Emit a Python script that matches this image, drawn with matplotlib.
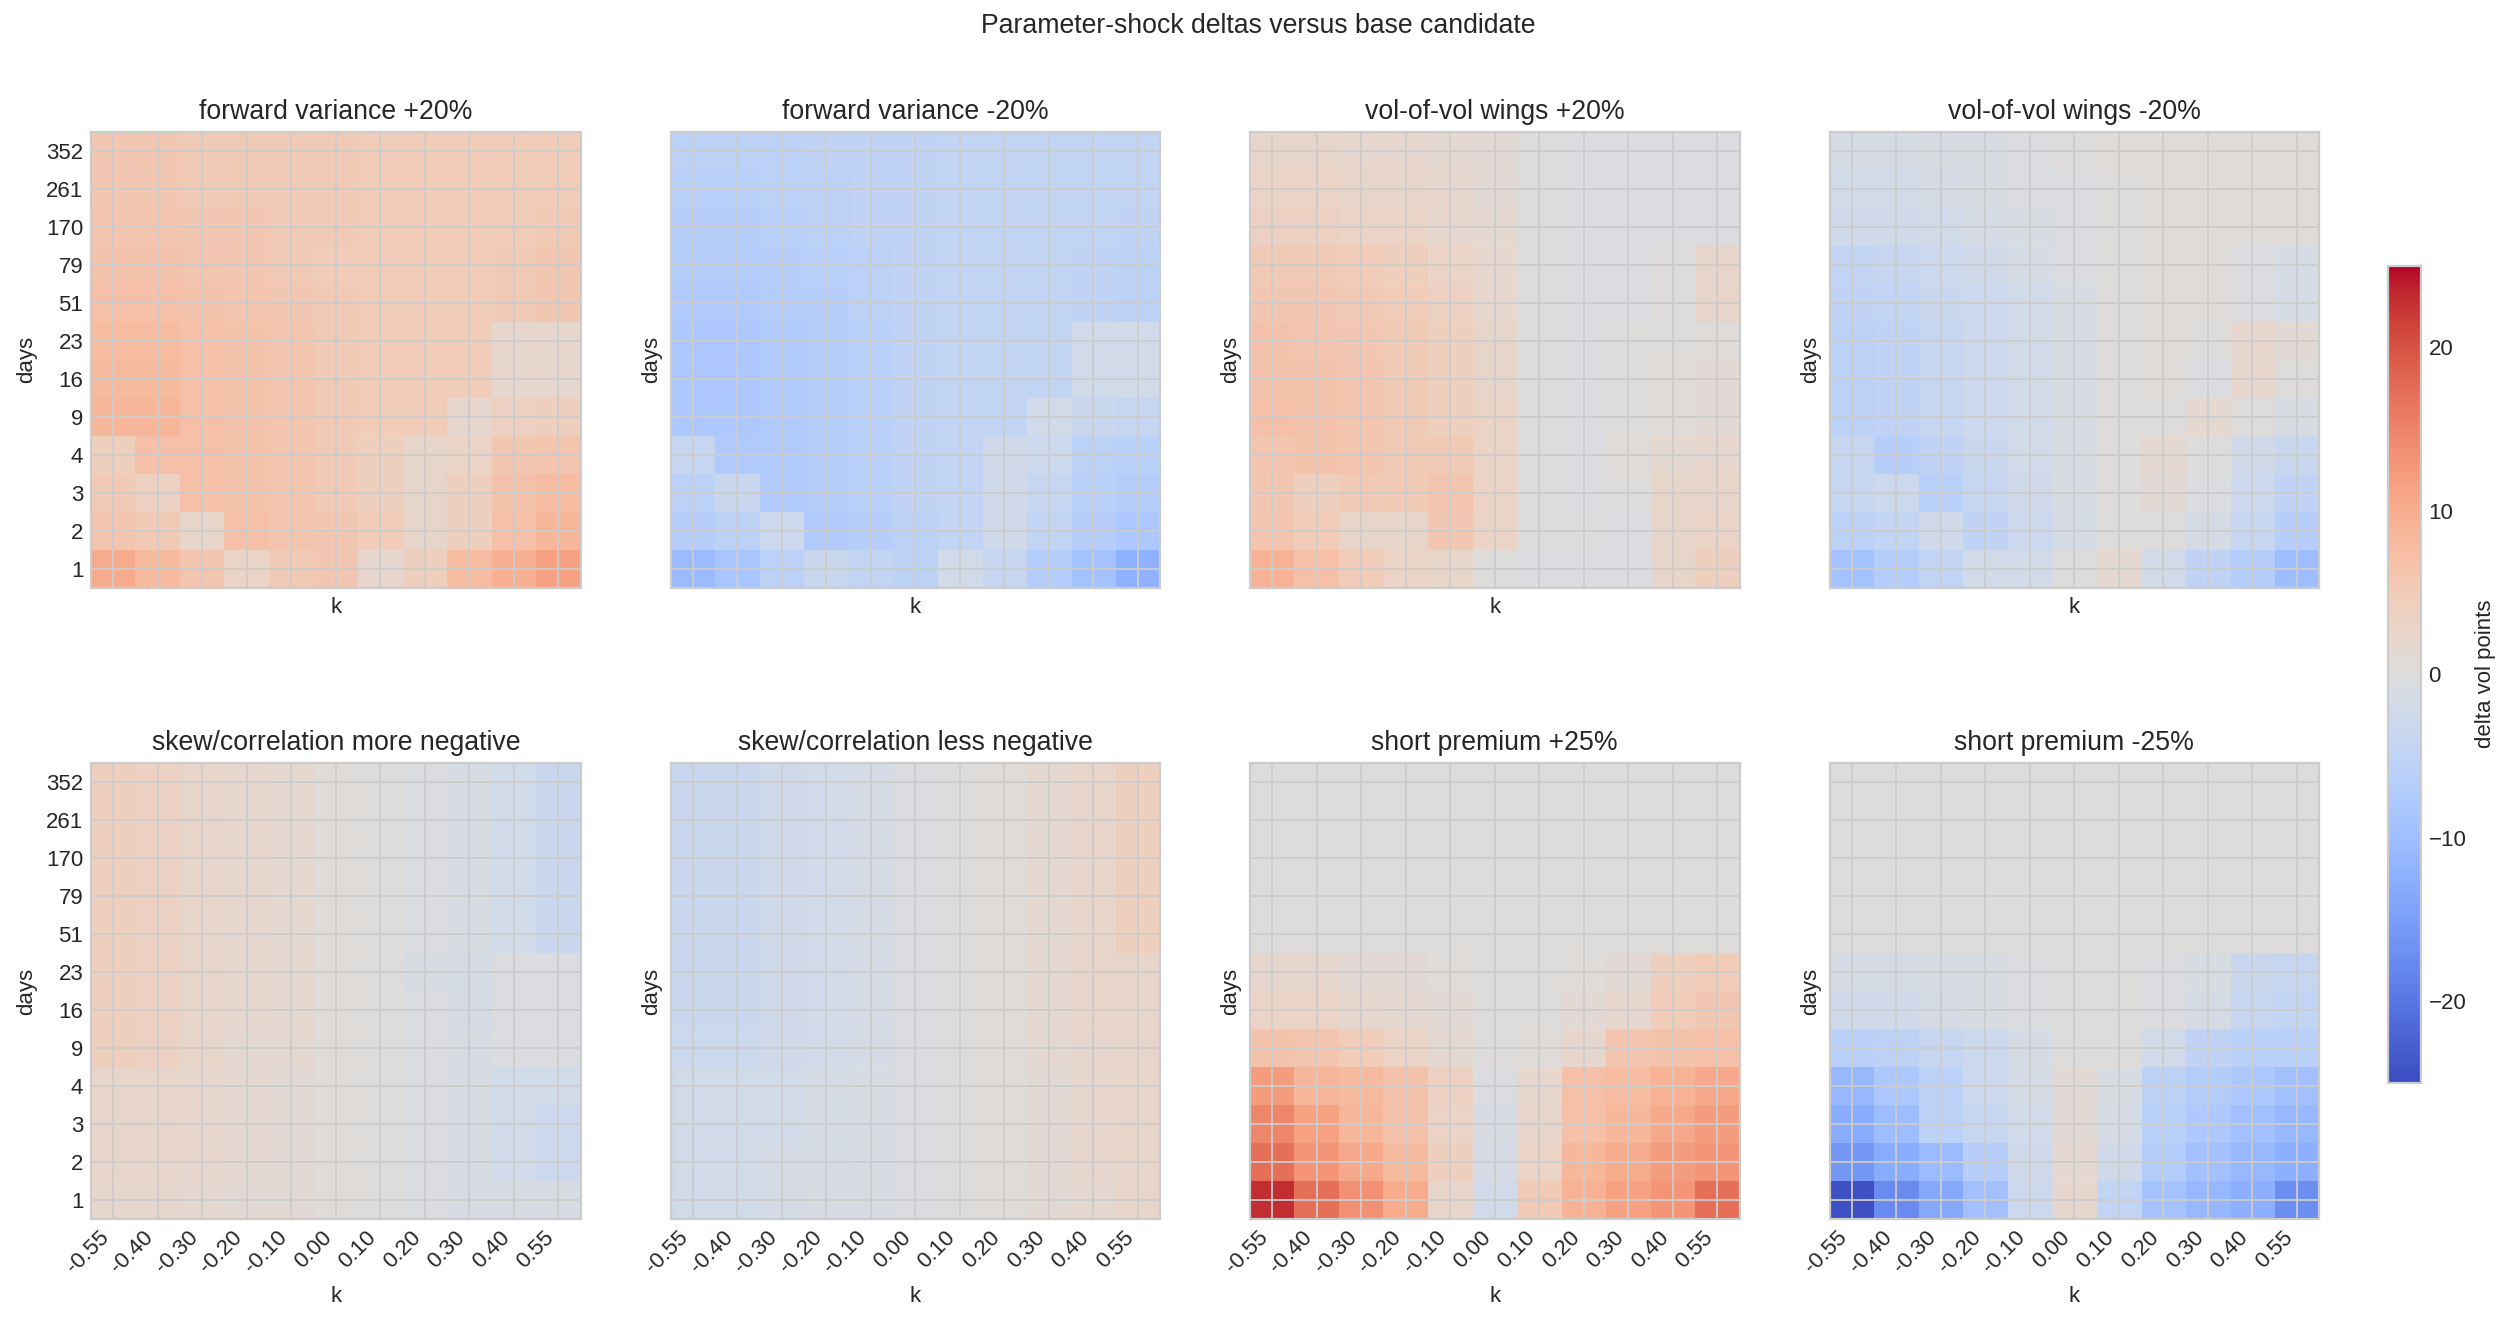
import numpy as np
import matplotlib
matplotlib.use("Agg")
import matplotlib.pyplot as plt

plt.style.use("seaborn-v0_8-whitegrid")
plt.rcParams["font.family"] = ["Liberation Sans", "DejaVu Sans"]

k_labels = ["-0.55", "-0.40", "-0.30", "-0.20", "-0.10", "0.00", "0.10", "0.20", "0.30", "0.40", "0.55"]
day_labels = ["1", "2", "3", "4", "9", "16", "23", "51", "79", "170", "261", "352"]

titles = [
    "forward variance +20%", "forward variance -20%",
    "vol-of-vol wings +20%", "vol-of-vol wings -20%",
    "skew/correlation more negative", "skew/correlation less negative",
    "short premium +25%", "short premium -25%",
]

# rows go from 1 day (bottom) up to 352 days (top), columns follow k_labels
fwd_var_up = [
    [10, 8, 6, 3, 5, 5.5, 2, 4, 7.5, 9.5, 11.5],
    [6, 5, 2.5, 7, 6, 5.5, 4.5, 2.5, 4, 7, 8.5],
    [5, 3.5, 7, 6.5, 6, 5, 4, 2.5, 4, 6.5, 7.5],
    [4, 7, 7, 6.5, 6, 5, 4, 2.5, 3, 5.5, 6],
    [8.5, 8.5, 7, 6.5, 6, 5, 4.5, 4.5, 2, 3.5, 4],
    [8, 8, 7, 6.5, 6, 5, 4.5, 4.5, 4.5, 2, 2],
    [7.5, 7.5, 7, 6.5, 6, 5, 4.5, 4.5, 4.5, 2, 2],
    [7, 7, 6.5, 6, 5.5, 5, 4.5, 4.5, 4.5, 5, 5.5],
    [6.5, 6.5, 6, 5.5, 5, 4.5, 4.5, 4.5, 4.5, 5, 5.5],
    [6, 6, 5.5, 5.5, 5, 5, 4.5, 4.5, 4.5, 4.5, 5],
    [5.5, 5.5, 5, 5, 5, 5, 4.5, 4.5, 4.5, 4.5, 4.5],
    [5.5, 5.5, 5, 5, 5, 5, 4.5, 4.5, 4.5, 4.5, 4.5],
]
fwd_var_down = [
    [-10.5, -8.5, -5.5, -3.5, -4.5, -5.5, -2, -4, -7, -9, -12],
    [-6.5, -5.5, -3, -7.5, -6.5, -5.5, -4.5, -2.5, -4.5, -6.5, -8],
    [-5.5, -3.5, -7.5, -7, -6, -5, -4.5, -2.5, -4, -6, -7],
    [-4, -7.5, -7.5, -7, -6, -5, -4.5, -2.5, -3, -5.5, -6],
    [-8, -8, -7.5, -7, -6, -5, -4.5, -4.5, -2, -3.5, -4],
    [-8, -8, -7.5, -7, -6, -5, -4.5, -4.5, -4.5, -2, -2],
    [-8, -8, -7.5, -7, -6, -5, -4.5, -4.5, -4.5, -2, -2],
    [-7.5, -7.5, -7, -6.5, -5.5, -5, -4.5, -4.5, -4.5, -5, -5.5],
    [-7, -7, -6.5, -6, -5.5, -5, -4.5, -4.5, -4.5, -5, -5.5],
    [-6.5, -6.5, -6, -5.5, -5, -5, -4.5, -4.5, -4.5, -4.5, -5],
    [-6, -6, -5.5, -5.5, -5, -5, -4.5, -4.5, -4.5, -4.5, -4.5],
    [-5.5, -5.5, -5.5, -5, -5, -5, -4.5, -4.5, -4.5, -4.5, -4.5],
]
volvol_up = [
    [9, 7, 4.5, 3, 2.5, 0, -0.5, -0.5, -0.5, 2.5, 4],
    [6, 4.5, 2.5, 2.5, 5.5, 3, 0, 0, -0.5, 2.5, 3],
    [5.5, 4, 5, 5, 6, 3, 0, -0.5, 0, 2.5, 2.5],
    [6, 6.5, 6, 5, 5, 3, 0, -0.5, 0.5, 1.5, 2],
    [7, 6.5, 6, 5, 4, 3, 0, -0.5, 0, 0.5, 1],
    [6.5, 6.5, 6, 5, 4, 2.5, 0, -0.5, 0, 0.5, 1],
    [6.5, 6, 5.5, 5, 4, 2.5, 0, -0.5, 0, 0, 0.5],
    [5.5, 5.5, 5, 4.5, 3.5, 2, 0, -0.5, -0.5, 0, 2.5],
    [5, 5, 4.5, 4, 3, 2, 0, -0.5, -0.5, 0, 2.5],
    [3.5, 3.5, 3, 3, 2, 1.5, 0, -0.5, -0.5, -0.5, -0.5],
    [3, 3, 2.5, 2.5, 2, 1, 0, -0.5, -0.5, -0.5, -0.5],
    [2.5, 2.5, 2, 2, 1.5, 1, 0, -0.5, -0.5, -0.5, -0.5],
]
volvol_down = [
    [-9, -7, -4.5, -2, -2, 0, 1.5, -2, -5, -7, -10],
    [-5.5, -4.5, -2.5, -5, -3, -1.5, 0, 0, -1.5, -4, -6.5],
    [-4, -3, -6, -4, -2.5, -1, 0, 1, -0.5, -3, -5],
    [-4, -6.5, -5, -3.5, -2, -1, 0, 1.5, 0, -2.5, -3.5],
    [-5.5, -5, -4, -3, -2, -1, 0, 0, 1.5, 0, -1],
    [-5.5, -5, -4, -3, -2, -1, 0, 0.5, -0.5, 2, 0],
    [-5.5, -5, -4, -3, -2, -1, 0, 0.5, 0, 2, 1],
    [-5, -4.5, -3.5, -3, -2, -1, 0, 0.5, 0.5, -0.5, -1.5],
    [-4.5, -4, -3, -2.5, -1.5, -0.5, 0, 0.5, 0.5, -0.5, -1.5],
    [-2.5, -2.5, -2, -1.5, -1, -0.5, 0, 0.5, 0.5, 0.5, 0.5],
    [-2, -2, -1.5, -1, -0.5, -0.5, 0, 0.5, 0.5, 0.5, 0.5],
    [-1.5, -1.5, -1, -1, -0.5, 0, 0.5, 0.5, 0.5, 0.5, 0.5],
]
skew_more = [
    [2, 2, 1.5, 1, 1, 0.5, 0, -0.5, -1, -1, -1],
    [2.5, 2.5, 2, 1.5, 1, 0.5, 0, -0.5, -1, -2, -3],
    [2.5, 2.5, 2, 1.5, 1, 0.5, 0, -0.5, -1, -2, -3],
    [2.5, 2.5, 2, 1.5, 1, 0.5, 0, -0.5, -1, -2, -2],
    [4, 3.5, 2.5, 1.5, 1.5, 0.5, 0, -0.5, -1, -0.5, -0.5],
    [4, 3.5, 2.5, 2, 1.5, 0.5, 0, -0.5, -1.5, -0.5, -0.5],
    [4, 3.5, 2.5, 2, 1.5, 0.5, 0, -1, -1.5, -0.5, -0.5],
    [4, 3.5, 2.5, 2, 1.5, 0.5, 0, -0.5, -1, -2, -3.5],
    [4, 3.5, 2.5, 2, 1.5, 0.5, 0, -0.5, -1, -2, -3.5],
    [4, 3.5, 2.5, 2, 1.5, 0.5, 0, -0.5, -1, -2, -3.5],
    [4, 3.5, 2.5, 2, 1.5, 0.5, 0, -0.5, -1, -2, -3.5],
    [4, 3.5, 2.5, 2, 1.5, 0.5, 0, -0.5, -1, -2, -3.5],
]
skew_less = [
    [-2, -2, -1.5, -1, -1, -0.5, 0, 0.5, 1, 1.5, 2.5],
    [-2, -2, -1.5, -1.5, -1, -0.5, 0, 0.5, 1, 2, 2.5],
    [-2, -2, -2, -1.5, -1, -0.5, 0, 0.5, 1, 2, 2.5],
    [-2, -2, -2, -1.5, -1, -0.5, 0, 0.5, 1, 2, 2.5],
    [-3, -3, -2.5, -2, -1.5, -0.5, 0, 0.5, 1.5, 2, 2.5],
    [-3.5, -3.5, -2.5, -2, -1.5, -0.5, 0, 0.5, 1.5, 2.5, 2.5],
    [-3.5, -3.5, -2.5, -2, -1.5, -0.5, 0, 0.5, 1.5, 2.5, 2.5],
    [-3.5, -3.5, -2.5, -2, -1.5, -0.5, 0, 0.5, 1.5, 2.5, 4],
    [-3.5, -3.5, -2.5, -2, -1.5, -0.5, 0, 0.5, 1.5, 2.5, 4],
    [-3.5, -3.5, -2.5, -2, -1.5, -0.5, 0, 0.5, 1.5, 2.5, 4],
    [-3.5, -3.5, -2.5, -2, -1.5, -0.5, 0, 0.5, 1.5, 2.5, 4],
    [-3.5, -3.5, -2.5, -2, -1.5, -0.5, 0, 0.5, 1.5, 2.5, 4],
]
short_up = [
    [23, 17, 13.5, 10, 2.5, -2, 5, 9, 11.5, 13, 17],
    [17, 13, 10.5, 8, 4, -1.5, 3, 8.5, 10, 12, 13],
    [14.5, 11.5, 8.5, 6.5, 3, -1, 2.5, 7, 8.5, 10.5, 12],
    [12, 8.5, 8, 6.5, 3.5, -0.5, 2, 7, 7.5, 9, 10.5],
    [6.5, 6, 4.5, 3, 1.5, 0, 0.5, 2, 6, 6.5, 7],
    [3, 3, 2, 1.5, 1, 0, 0, 1, 2, 4.5, 5.5],
    [2, 2, 1, 1, 0.5, 0, 0, 0.5, 1, 4, 4.5],
    [0, 0, 0, 0, 0, 0, 0, 0, 0, 0, 0],
    [0, 0, 0, 0, 0, 0, 0, 0, 0, 0, 0],
    [0, 0, 0, 0, 0, 0, 0, 0, 0, 0, 0],
    [0, 0, 0, 0, 0, 0, 0, 0, 0, 0, 0],
    [0, 0, 0, 0, 0, 0, 0, 0, 0, 0, 0],
]
short_down = [
    [-24.5, -17.5, -13.5, -9.5, -3, 2, -4.5, -9, -11, -12.5, -17],
    [-16, -13, -10.5, -6.5, -2.5, 1.5, -2.5, -7, -9.5, -11, -12.5],
    [-13, -10, -5.5, -4, -2, 1, -1.5, -6, -8, -9.5, -11],
    [-11, -8, -5.5, -3, -1.5, 1, -1, -5.5, -7, -8, -9.5],
    [-6, -5.5, -4, -3, -1.5, 0, 0, -2, -5, -6, -6],
    [-2.5, -2.5, -1.5, -1, -0.5, 0, 0, -0.5, -1.5, -4, -4.5],
    [-1.5, -1.5, -1, -1, -0.5, 0, 0, -0.5, -1, -3.5, -4],
    [0, 0, 0, 0, 0, 0, 0, 0, 0, 0, 0],
    [0, 0, 0, 0, 0, 0, 0, 0, 0, 0, 0],
    [0, 0, 0, 0, 0, 0, 0, 0, 0, 0, 0],
    [0, 0, 0, 0, 0, 0, 0, 0, 0, 0, 0],
    [0, 0, 0, 0, 0, 0, 0, 0, 0, 0, 0],
]

panels = [fwd_var_up, fwd_var_down, volvol_up, volvol_down,
          skew_more, skew_less, short_up, short_down]
lim = 25

fig, axes = plt.subplots(2, 4, figsize=(15.725, 8.2625), dpi=160, sharex=True, sharey=True)
fig.subplots_adjust(left=0.0362, right=0.9217, top=0.9002, bottom=0.0779, wspace=0.184, hspace=0.384)

for i, ax in enumerate(axes.flat):
    im = ax.imshow(np.array(panels[i]), origin="lower", aspect="auto", cmap="coolwarm",
                   vmin=-lim, vmax=lim, interpolation="nearest")
    ax.set_title(titles[i])
    ax.set_xticks(range(len(k_labels)))
    ax.set_yticks(range(len(day_labels)))
    ax.set_yticklabels(day_labels)
    ax.set_xlabel("k")
    ax.set_ylabel("days")
    if i >= 4:
        ax.set_xticklabels(k_labels, rotation=45, ha="right")

cax = fig.add_axes([0.949, 0.181, 0.0131, 0.618])
cb = fig.colorbar(im, cax=cax)
cb.set_label("delta vol points")
cax.grid(False)

fig.suptitle("Parameter-shock deltas versus base candidate", y=0.99)
fig.savefig("out.png", dpi=160)
